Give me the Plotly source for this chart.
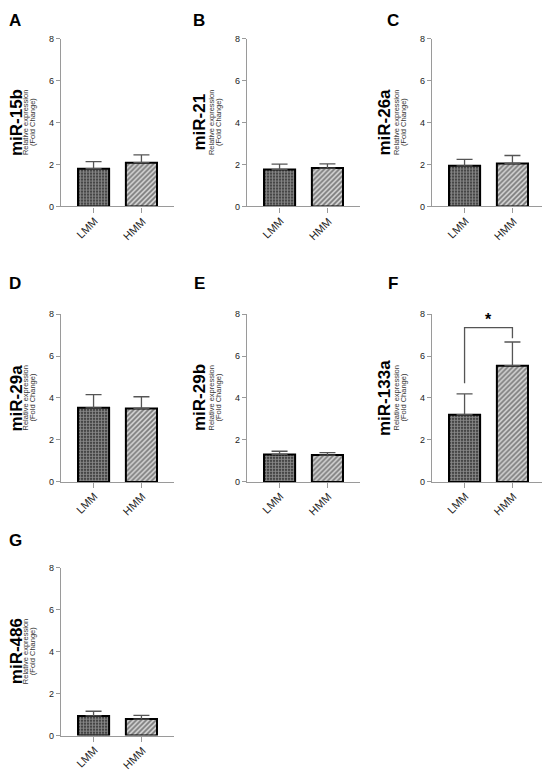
import plotly.graph_objects as go

# data
groups = ['LMM', 'HMM']
panels = ['A', 'B', 'C', 'D', 'E', 'F', 'G']
mirnas = ['miR-15b', 'miR-21', 'miR-26a', 'miR-29a', 'miR-29b', 'miR-133a', 'miR-486']
lmm_mean = [1.80, 1.76, 1.94, 3.53, 1.31, 3.20, 0.94]
lmm_sem = [0.34, 0.26, 0.31, 0.63, 0.15, 1.00, 0.22]
hmm_mean = [2.09, 1.83, 2.05, 3.50, 1.28, 5.54, 0.79]
hmm_sem = [0.37, 0.20, 0.38, 0.56, 0.12, 1.13, 0.17]
y_ticks = [0, 2, 4, 6, 8]
sub_lines = ['Relative expression', '(Fold Change)']

# significance bracket for miR-133a
sig_x = [0, 0, 1, 1]
sig_y = [4.7, 7.35, 7.35, 6.85]
sig_label = '*'

W, H = 550, 779
FONT = 'Liberation Sans, Arial, sans-serif'
OFF = 8  # page body margin that pushes the plot down/right

# screen-pixel layout of the grid (axis left, axis right) / (axis top, axis bottom)
cols = [(61, 174), (247, 360), (432, 545)]
rows = [(34, 204), (313, 483), (570, 740)]
letter_x = [15, 199, 393]
letter_y = [16, 282, 542]
label_dx = [-44.5, -47, -47]
sub_dx = [-35.5, -28.5]


def px(v):
    return (v - OFF) / W


def py(v):
    return 1 - (v - OFF) / H


fig = go.Figure()
annotations = []

for i, name in enumerate(mirnas):
    r, c = divmod(i, 3)
    k = '' if i == 0 else str(i + 1)
    xa, ya = 'x' + k, 'y' + k
    x0, x1 = cols[c]
    y0, y1 = rows[r]

    fig.add_trace(go.Bar(
        x=[0], y=[lmm_mean[i]], width=0.65, xaxis=xa, yaxis=ya,
        marker=dict(color='black', line=dict(color='black', width=2),
                    pattern=dict(shape='.', size=3, solidity=0.7,
                                 fgcolor='white', bgcolor='#111111')),
        error_y=dict(type='data', array=[lmm_sem[i]], arrayminus=[0], symmetric=False,
                     color='#555555', thickness=1.3, width=8),
        showlegend=False,
    ))
    fig.add_trace(go.Bar(
        x=[1], y=[hmm_mean[i]], width=0.65, xaxis=xa, yaxis=ya,
        marker=dict(color='#cfcfcf', line=dict(color='black', width=2),
                    pattern=dict(shape='/', size=3.5, solidity=0.5,
                                 fgcolor='#222222', bgcolor='#d4d4d4')),
        error_y=dict(type='data', array=[hmm_sem[i]], arrayminus=[0], symmetric=False,
                     color='#555555', thickness=1.3, width=8),
        showlegend=False,
    ))

    axis_common = dict(showline=True, linecolor='#9a9a9a', linewidth=1.3,
                       ticks='outside', tickcolor='#9a9a9a', tickwidth=1.2,
                       showgrid=False, zeroline=False)
    fig.update_layout({
        ('xaxis' + k): dict(domain=[px(x0), px(x1)], anchor=ya, range=[-0.68, 1.68],
                            tickvals=[0, 1], showticklabels=False, ticklen=5,
                            **axis_common),
        ('yaxis' + k): dict(domain=[py(y1), py(y0)], anchor=xa, range=[0, 8],
                            tickvals=y_ticks, ticklen=4,
                            tickfont=dict(family=FONT, size=9, color='#222222'),
                            **axis_common),
    })

    # rotated category labels, ending just under each tick
    for j, g in enumerate(groups):
        annotations.append(dict(xref=xa, yref='paper', x=j, y=py(y1),
                                yshift=-6, xshift=9, text=g, textangle=-45,
                                showarrow=False, xanchor='right', yanchor='top',
                                font=dict(family=FONT, size=11, color='#222222')))

    ymid = py((y0 + y1) / 2)
    annotations.append(dict(xref='paper', yref='paper', x=px(x0 + label_dx[c]), y=ymid,
                            text='<b>' + name + '</b>', textangle=-90, showarrow=False,
                            font=dict(family=FONT, size=17, color='black'),
                            xanchor='center', yanchor='middle'))
    for line, dx in zip(sub_lines, sub_dx):
        annotations.append(dict(xref='paper', yref='paper', x=px(x0 + dx), y=ymid,
                                text=line, textangle=-90, showarrow=False,
                                font=dict(family=FONT, size=7.5, color='#333333'),
                                xanchor='center', yanchor='middle'))
    annotations.append(dict(xref='paper', yref='paper', x=px(letter_x[c]),
                            y=py(letter_y[r]), text='<b>' + panels[i] + '</b>',
                            showarrow=False, font=dict(family=FONT, size=17, color='black'),
                            xanchor='center', yanchor='middle'))

# bracket + star on panel F
fig.add_trace(go.Scatter(x=sig_x, y=sig_y, xaxis='x6', yaxis='y6', mode='lines',
                         line=dict(color='#555555', width=1.3), showlegend=False,
                         hoverinfo='skip'))
annotations.append(dict(xref='x6', yref='y6', x=0.5, y=7.75, text='<b>' + sig_label + '</b>',
                        showarrow=False, font=dict(family=FONT, size=16, color='black'),
                        xanchor='center', yanchor='middle'))

fig.update_layout(
    width=W, height=H,
    margin=dict(l=0, r=0, t=0, b=0),
    paper_bgcolor='white', plot_bgcolor='white',
    annotations=annotations,
    barmode='overlay',
)

fig.write_html("out.html")
